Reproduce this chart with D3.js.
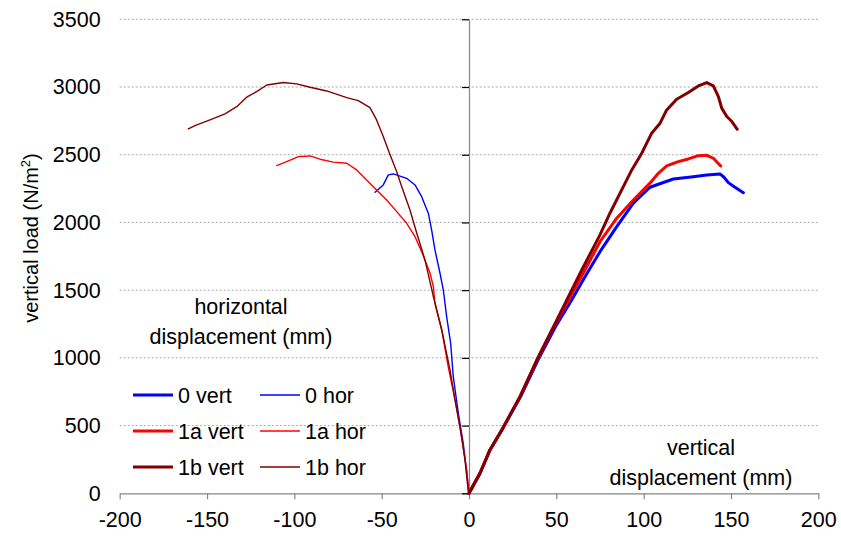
<!DOCTYPE html>
<html>
<head>
<meta charset="utf-8">
<script src="https://cdn.jsdelivr.net/npm/d3@7"></script>
<style>
  body { margin: 0; background: #fff; }
  text { font-family: "Liberation Sans", Arial, sans-serif; fill: #000; }
</style>
</head>
<body>
<div id="chart"></div>
<script>
// values: [displacement mm, load N/m2]
const vert0 = [[0,0],[6.3,148],[12,320],[18.8,468],[29.5,713],[39.5,984],[49.5,1230],[58.8,1428],[66.5,1600],[75,1784],
  [84.6,1969],[94.1,2142],[103.6,2260],[117,2321],[128.4,2338],[136.1,2351],[143.7,2358],[146,2334],[148.5,2294],[152.3,2260],[157.1,2220]];
const vert1a = [[0,0],[6.3,148],[12,320],[18.8,468],[29.2,713],[39,984],[48.6,1230],[57,1428],[66,1640],[75,1858],
  [84.6,2031],[94.1,2166],[103.6,2290],[108.4,2363],[113.2,2417],[119.8,2449],[125.6,2469],[131.3,2493],[136.1,2496],[139.9,2474],[144.1,2417]];
const vert1b = [[0,0],[6.3,148],[12,320],[18.8,468],[29.2,713],[38.8,984],[48.4,1230],[56,1428],[65,1660],[75,1908],
  [80.7,2068],[86.5,2216],[93.2,2388],[98.9,2511],[104.6,2659],[109.4,2733],[113.2,2831],[118.9,2910],[125.6,2959],[131.3,3008],
  [136.1,3033],[139.9,3008],[142.8,2929],[144.7,2844],[147.6,2782],[150.5,2745],[153.6,2688]];
const hor0 = [[-53.8,2223],[-49.1,2277],[-46.2,2351],[-43.3,2358],[-35.7,2326],[-30.9,2277],[-27.1,2190],[-23.3,2068],[-21.4,1945],
  [-19.5,1797],[-16.6,1625],[-14.7,1501],[-12.8,1304],[-10.5,1108],[-9,861],[-6.1,591],[-3.3,369],[-1.7,196],[0,0]];
const hor1a = [[-110.1,2420],[-104.4,2449],[-97.7,2486],[-91,2491],[-85.3,2467],[-77.7,2445],[-70,2437],[-64.3,2388],[-58.6,2314],
  [-52.9,2240],[-47.1,2166],[-41.4,2080],[-35.7,1994],[-30.9,1895],[-27.1,1784],[-22.3,1625],[-20.4,1526],[-19.5,1403],[-15.6,1206],
  [-11.9,935],[-8,689],[-4.2,418],[-1.3,172],[0,0]];
const hor1b = [[-160.7,2690],[-156.9,2715],[-148.3,2757],[-139.7,2801],[-133,2855],[-127.3,2925],[-121.6,2966],[-115.8,3015],
  [-106.3,3033],[-98.7,3023],[-91,2998],[-81.5,2971],[-70,2922],[-63.4,2900],[-56.7,2848],[-52.9,2757],[-49.1,2634],[-45.2,2499],
  [-41.4,2375],[-38.5,2264],[-33.8,2092],[-29.9,1920],[-25.2,1723],[-20.4,1452],[-15.6,1206],[-10.9,911],[-8,689],[-5.2,492],
  [-2.3,246],[-0.4,12],[0,0]];

const xTicks = [-200, -150, -100, -50, 0, 50, 100, 150, 200];
const yTicks = [0, 500, 1000, 1500, 2000, 2500, 3000, 3500];
const seriesNames = ["0 vert", "0 hor", "1a vert", "1a hor", "1b vert", "1b hor"];

const width = 841, height = 540, fontSize = 21.5;
const colors = { "0": "#0000ff", "1a": "#ff0000", "1b": "#800000" };
const plainNum = d => String(d); // hyphen minus, no thousands comma

const series = [
  { name: "0 hor", key: "0", thick: false, data: hor0 },
  { name: "1a hor", key: "1a", thick: false, data: hor1a },
  { name: "1b hor", key: "1b", thick: false, data: hor1b },
  { name: "0 vert", key: "0", thick: true, data: vert0 },
  { name: "1a vert", key: "1a", thick: true, data: vert1a },
  { name: "1b vert", key: "1b", thick: true, data: vert1b }
];

const xScale = d3.scaleLinear().domain([-200, 200]).range([119.7, 818.3]);
const yScale = d3.scaleLinear().domain([0, 3500]).range([493.3, 19.3]);

const svg = d3.select("#chart").append("svg")
  .attr("width", width).attr("height", height);

// dotted gridlines
svg.append("g")
  .selectAll("line")
  .data(yTicks.filter(d => d > 0))
  .join("line")
  .attr("x1", xScale(-200)).attr("x2", xScale(200))
  .attr("y1", d => yScale(d)).attr("y2", d => yScale(d))
  .attr("stroke", "#a6a6a6")
  .attr("stroke-width", 1)
  .attr("stroke-dasharray", "2,2");

// x axis
const xAxis = svg.append("g")
  .attr("transform", `translate(0,${yScale(0)})`)
  .call(d3.axisBottom(xScale).tickValues(xTicks).tickFormat(plainNum).tickSize(6).tickSizeOuter(0).tickPadding(12));
xAxis.select(".domain").attr("stroke", "#868686").attr("stroke-width", 1.2);
xAxis.selectAll(".tick line").attr("stroke", "#868686").attr("stroke-width", 1.2);
xAxis.selectAll(".tick text").attr("font-size", fontSize).attr("font-family", "Liberation Sans, Arial, sans-serif");

// y axis crossing at x = 0
const yAxis = svg.append("g")
  .attr("transform", `translate(${xScale(0)},0)`)
  .call(d3.axisLeft(yScale).tickValues(yTicks).tickSize(7).tickSizeOuter(0).tickFormat(""));
yAxis.select(".domain").attr("stroke", "#868686").attr("stroke-width", 1.2);
yAxis.selectAll(".tick line").attr("stroke", "#000").attr("stroke-width", 1.2);

// y tick labels sit at the left edge of the plot
const yLabels = svg.append("g")
  .attr("transform", `translate(${xScale(-200)},0)`)
  .call(d3.axisLeft(yScale).tickValues(yTicks).tickFormat(plainNum).tickSize(0).tickPadding(19));
yLabels.select(".domain").remove();
yLabels.selectAll(".tick text").attr("font-size", fontSize).attr("font-family", "Liberation Sans, Arial, sans-serif");

// y axis title
const yTitle = svg.append("text")
  .attr("transform", "translate(38,238) rotate(-90)")
  .attr("text-anchor", "middle")
  .attr("font-size", 20);
yTitle.append("tspan").text("vertical load (N/m");
yTitle.append("tspan").attr("font-size", 13).attr("dy", -8).text("2");
yTitle.append("tspan").attr("dy", 8).text(")");

// lines
const line = d3.line().x(d => xScale(d[0])).y(d => yScale(d[1]));
svg.append("g")
  .selectAll("path")
  .data(series)
  .join("path")
  .attr("fill", "none")
  .attr("stroke", d => colors[d.key])
  .attr("stroke-width", d => d.thick ? 3 : 1.4)
  .attr("stroke-linejoin", "round")
  .attr("stroke-linecap", "round")
  .attr("d", d => line(d.data));

// annotations
const note = (lines, cx, y0) => {
  svg.append("g").selectAll("text")
    .data(lines)
    .join("text")
    .attr("x", cx)
    .attr("y", (d, i) => y0 + i * 30)
    .attr("text-anchor", "middle")
    .attr("font-size", fontSize)
    .text(d => d);
};
note(["horizontal", "displacement (mm)"], 241, 314);
note(["vertical", "displacement (mm)"], 701, 455);

// legend
const legend = svg.append("g")
  .selectAll("g")
  .data(seriesNames)
  .join("g")
  .attr("transform", (d, i) => `translate(${i % 2 === 0 ? 133 : 260},${395 + Math.floor(i / 2) * 36})`);
legend.append("line")
  .attr("x1", 0).attr("x2", 40)
  .attr("stroke", d => colors[d.split(" ")[0]])
  .attr("stroke-width", d => d.endsWith("vert") ? 3 : 1.4);
legend.append("text")
  .attr("x", 45)
  .attr("dy", "0.35em")
  .attr("font-size", fontSize)
  .text(d => d);
</script>
</body>
</html>
